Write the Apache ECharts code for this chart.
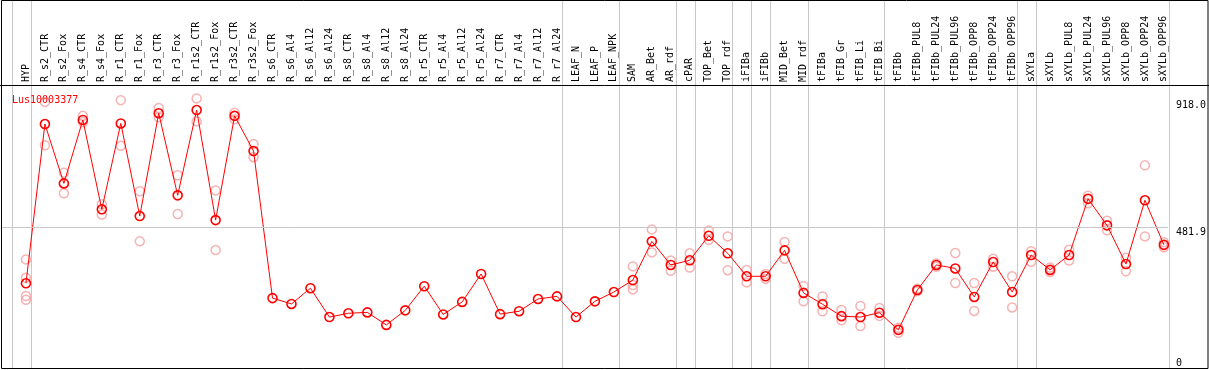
<!DOCTYPE html>
<html><head><meta charset="utf-8">
<script src="https://cdn.jsdelivr.net/npm/echarts@6/dist/echarts.min.js"></script>
<style>html,body{margin:0;padding:0;background:#fff}#c{width:1209px;height:370px}</style>
</head><body><div id="c"></div>
<script>
const seriesName = 'Lus10003377';
const categories = ['HYP','R_s2_CTR','R_s2_Fox','R_s4_CTR','R_s4_Fox','R_r1_CTR','R_r1_Fox','R_r3_CTR','R_r3_Fox','R_r1s2_CTR','R_r1s2_Fox','R_r3s2_CTR','R_r3s2_Fox','R_s6_CTR','R_s6_Al4','R_s6_Al12','R_s6_Al24','R_s8_CTR','R_s8_Al4','R_s8_Al12','R_s8_Al24','R_r5_CTR','R_r5_Al4','R_r5_Al12','R_r5_Al24','R_r7_CTR','R_r7_Al4','R_r7_Al12','R_r7_Al24','LEAF_N','LEAF_P','LEAF_NPK','SAM','AR_Bet','AR_rdf','cPAR','TOP_Bet','TOP_rdf','iFIBa','iFIBb','MID_Bet','MID_rdf','tFIBa','tFIB_Gr','tFIB_Li','tFIB_Bi','tFIBb','tFIBb_PUL8','tFIBb_PUL24','tFIBb_PUL96','tFIBb_OPP8','tFIBb_OPP24','tFIBb_OPP96','sXYLa','sXYLb','sXYLb_PUL8','sXYLb_PUL24','sXYLb_PUL96','sXYLb_OPP8','sXYLb_OPP24','sXYLb_OPP96'];
const means = [291,838,634,852,545,840,522,875,593,886,508,866,745,240,220,274,175,188,191,148,198,281,184,227,323,185,195,237,246,175,229,261,302,435,354,370,454,394,315,315,404,258,219,178,175,190,131,268,354,342,244,364,261,388,337,388,581,490,357,576,423];
const rep1 = [373,914,671,866,562,920,607,893,662,926,610,877,769,null,null,null,null,null,null,null,null,null,null,null,null,null,null,null,null,null,null,null,349,476,369,394,472,452,337,323,433,282,246,199,213,206,138,272,359,395,292,375,315,401,345,406,592,506,379,696,432];
const rep2 = [310,765,600,845,527,763,435,861,529,847,405,854,724,null,null,null,null,null,null,null,null,null,null,null,null,null,null,null,null,null,null,null,285,397,334,345,440,336,294,306,375,229,195,164,144,179,121,264,348,292,196,348,208,365,330,369,566,473,332,452,415];
const rep3 = [247,null,null,null,null,null,null,null,null,null,null,null,null,null,null,null,null,null,null,null,null,null,null,null,null,null,null,null,null,null,null,null,270,null,null,null,null,null,null,null,null,null,null,null,null,null,null,null,null,null,null,null,null,null,null,null,null,null,null,null,null];
const rep4 = [234];
const groupSizes = [1,28,3,3,1,2,1,1,2,4,7,1,7];
const yTickLabels = [0, 481.9, 918.0];

const FONT = '"DejaVu Sans Mono", "Liberation Mono", monospace';
const chart = echarts.init(document.getElementById('c'), null, {renderer:'canvas'});
const idx = categories.map((_, i) => i);
const meanData = means.map((v, i) => [i, v]);
const repData = [];
[rep1, rep2, rep3, rep4].forEach(r => r.forEach((v, i) => { if (v != null) repData.push([i, v]); }));

chart.setOption({
  animation: false,
  backgroundColor: '#fff',
  title: {text: seriesName, left: 7, top: 90, textStyle: {color: '#ff0000', fontFamily: FONT, fontSize: 10, fontWeight: 'normal'}},
  grid: {left: 2, right: 39, top: 85, bottom: 2},
  xAxis: {
    type: 'value', position: 'top', min: -1.2632, max: 60.2105,
    axisLine: {show: false}, axisTick: {show: false}, splitLine: {show: false},
    axisLabel: {customValues: idx, formatter: v => categories[Math.round(v)] || '', rotate: 90, margin: 3,
      color: '#000', fontFamily: FONT, fontSize: 10}
  },
  yAxis: [{
    type: 'value', position: 'right', min: 0, max: 972,
    axisLine: {show: false}, axisTick: {show: false}, splitLine: {show: false},
    axisLabel: {customValues: [yTickLabels[1], yTickLabels[2]], formatter: v => v.toFixed(1), verticalAlign: 'top', align: 'left', margin: 8, color: '#000', fontFamily: FONT, fontSize: 10}
  }, {
    type: 'value', position: 'right', min: 0, max: 972,
    axisLine: {show: false}, axisTick: {show: false}, splitLine: {show: false},
    axisLabel: {customValues: [yTickLabels[0]], formatter: v => String(v), verticalAlign: 'bottom', align: 'left', margin: 8, color: '#000', fontFamily: FONT, fontSize: 10}
  }],
  series: [{
    type: 'scatter', data: repData, symbol: 'circle', symbolSize: 9, z: 2,
    itemStyle: {color: 'rgba(0,0,0,0)', borderColor: '#f2a0a0', borderWidth: 1.5}
  }, {
    type: 'line', name: seriesName, data: meanData, symbol: 'circle', symbolSize: 9, showSymbol: true, z: 3,
    lineStyle: {color: '#ff0000', width: 1},
    itemStyle: {color: 'rgba(0,0,0,0)', borderColor: '#ff0000', borderWidth: 1.6},
    markLine: {silent: true, symbol: 'none', label: {show: false}, lineStyle: {color: '#c8c8c8', width: 1, type: 'solid'},
      data: [{yAxis: yTickLabels[1]}]}
  }]
});

// separators and frame
const gfx = [];
const lineStyle = {stroke: '#c8c8c8', lineWidth: 1};
let ends = [-1];
let acc = -1;
groupSizes.forEach(s => { acc += s; ends.push(acc); });
ends.forEach(e => {
  const x = Math.round(chart.convertToPixel({xAxisIndex: 0}, e + 0.25)) + 0.5;
  gfx.push({type: 'line', silent: true, z: 1, shape: {x1: x, y1: 0, x2: x, y2: 368}, style: lineStyle});
});
const yTop = chart.convertToPixel({yAxisIndex: 0}, 972);
gfx.push({type: 'line', silent: true, z: 10, shape: {x1: 0, y1: Math.round(yTop)+0.5, x2: 1209, y2: Math.round(yTop)+0.5}, style: {stroke: '#000', lineWidth: 1}});
gfx.push({type: 'rect', silent: true, z: 10, shape: {x: 1.5, y: 0.5, width: 1206.5, height: 368}, style: {fill: 'none', stroke: '#000', lineWidth: 1}});
chart.setOption({graphic: gfx});
</script>
</body></html>
